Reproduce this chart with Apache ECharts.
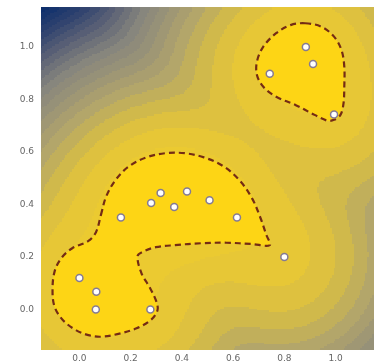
<!DOCTYPE html>
<html>
<head>
<meta charset="utf-8">
<script src="https://cdn.jsdelivr.net/npm/echarts@6/dist/echarts.min.js"></script>
<style>
  html, body { margin: 0; padding: 0; background: #fff; }
  #chart { width: 374px; height: 363px; }
</style>
</head>
<body>
<div id="chart"></div>
<script>
// training points (white markers)
const pointsX = [0.0, 0.066, 0.064, 0.277, 0.162, 0.28, 0.317, 0.37, 0.42, 0.508, 0.615, 0.8, 0.743, 0.884, 0.912, 0.994]
const pointsY = [0.12, 0.067, 0.0, 0.0, 0.35, 0.405, 0.443, 0.39, 0.449, 0.416, 0.35, 0.2, 0.898, 1.0, 0.935, 0.742]

// dashed decision boundary, lower-left region
const lowerX = [0.084, 0.104, 0.141, 0.192, 0.261, 0.336, 0.411, 0.486, 0.561, 0.624, 0.674, 0.705, 0.730, 0.743, 0.674, 0.574, 0.474, 0.373, 0.298, 0.248, 0.227, 0.242, 0.273, 0.298, 0.305, 0.279, 0.223, 0.148, 0.085, 0.035, -0.015, -0.065, -0.097, -0.105, -0.097, -0.071, -0.028, 0.035, 0.065]
const lowerY = [0.360, 0.429, 0.493, 0.544, 0.579, 0.595, 0.595, 0.579, 0.546, 0.493, 0.423, 0.353, 0.283, 0.245, 0.249, 0.254, 0.252, 0.245, 0.237, 0.220, 0.203, 0.138, 0.086, 0.036, -0.002, -0.040, -0.072, -0.094, -0.104, -0.098, -0.078, -0.040, 0.010, 0.074, 0.144, 0.195, 0.233, 0.261, 0.295]

// dashed decision boundary, upper-right region
const upperX = [0.881, 0.944, 0.994, 1.023, 1.034, 1.034, 1.031, 1.019, 0.994, 0.968, 0.918, 0.843, 0.768, 0.718, 0.693, 0.693, 0.718, 0.768, 0.824]
const upperY = [1.090, 1.077, 1.039, 0.988, 0.925, 0.848, 0.785, 0.741, 0.722, 0.719, 0.741, 0.779, 0.810, 0.848, 0.893, 0.944, 1.001, 1.052, 1.083]

// tick labels on both axes
const tickValues = [0.0, 0.2, 0.4, 0.6, 0.8, 1.0]

const AX_MIN = -0.15, AX_MAX = 1.15
const STEP = 0.0065      // mesh step for the background
const BW = 0.15          // kernel bandwidth
const THRESH = 0.65      // level of the dashed line (log density)
const BAND = 0.75        // contour band width

// background: log kernel density of the points on a mesh
const logDensity = (x, y) => {
  let s = 0
  for (let i = 0; i < pointsX.length; i++) {
    const dx = x - pointsX[i], dy = y - pointsY[i]
    s += Math.exp(-(dx * dx + dy * dy) / (2 * BW * BW))
  }
  return Math.log(s)
}
const heat = []
const n = Math.round((AX_MAX - AX_MIN) / STEP)
for (let i = 0; i < n; i++) {
  for (let j = 0; j < n; j++) {
    const x = AX_MIN + (i + 0.5) * STEP, y = AX_MIN + (j + 0.5) * STEP
    heat.push([x, y, logDensity(x, y)])
  }
}

// colour stops (level -> colour)
const stops = [
  [-15.5, [5, 42, 108]],
  [-12, [45, 65, 110]],
  [-9, [95, 100, 118]],
  [-6.5, [135, 134, 125]],
  [-4.5, [155, 148, 118]],
  [-2.5, [182, 168, 104]],
  [-1.5, [203, 182, 80]],
  [-0.6, [220, 192, 64]],
  [0.1, [229, 198, 56]],
  [0.65, [234, 201, 50]]
]
const colorAt = (v) => {
  if (v <= stops[0][0]) return 'rgb(' + stops[0][1].join(',') + ')'
  for (let k = 1; k < stops.length; k++) {
    if (v <= stops[k][0]) {
      const a = stops[k - 1], b = stops[k]
      const t = (v - a[0]) / (b[0] - a[0])
      const c = a[1].map((ca, m) => Math.round(ca + (b[1][m] - ca) * t))
      return 'rgb(' + c.join(',') + ')'
    }
  }
  return 'rgb(' + stops[stops.length - 1][1].join(',') + ')'
}
const pieces = [{ gte: THRESH, color: '#ebca31' }]
for (let k = 0; k < 24; k++) {
  const hi = THRESH - k * BAND, lo = hi - BAND
  pieces.push(k === 23 ? { lt: hi, color: colorAt(lo) } : { gte: lo, lt: hi, color: colorAt((lo + hi) / 2) })
}

const chart = echarts.init(document.getElementById('chart'))

const polygonSeries = (xs, ys) => ({
  type: 'custom',
  z: 3,
  silent: true,
  data: [[xs[0], ys[0]]],
  renderItem: (params, api) => {
    const pts = xs.map((x, i) => api.coord([x, ys[i]]))
    return {
      type: 'polygon',
      shape: { points: pts, smooth: 0.35 },
      style: {
        fill: '#fdd515',
        stroke: '#742c14',
        lineWidth: 2.2,
        lineDash: [6, 4]
      }
    }
  }
})

const axisCommon = {
  type: 'value',
  min: AX_MIN,
  max: AX_MAX,
  splitLine: { show: false },
  axisLine: { show: false },
  axisTick: { show: false },
}

const option = {
  animation: false,
  backgroundColor: '#fff',
  grid: { left: 41, top: 7.5, width: 346, height: 341.3 },
  xAxis: Object.assign({}, axisCommon, {
    axisLabel: {
      color: '#666', fontSize: 9, fontFamily: 'DejaVu Sans', margin: 5,
      customValues: tickValues, formatter: (v) => v.toFixed(1)
    }
  }),
  yAxis: Object.assign({}, axisCommon, {
    axisLabel: {
      color: '#666', fontSize: 9, fontFamily: 'DejaVu Sans', margin: 7,
      customValues: tickValues, formatter: (v) => v.toFixed(1)
    }
  }),
  visualMap: {
    type: 'piecewise',
    show: false,
    seriesIndex: 0,
    dimension: 2,
    pieces: pieces
  },
  series: [
    {
      // filled contour bands
      type: 'custom',
      data: heat,
      progressive: 0,
      silent: true,
      z: 1,
      encode: { x: 0, y: 1 },
      renderItem: (params, api) => {
        const p = api.coord([api.value(0) - STEP / 2, api.value(1) + STEP / 2])
        const s = api.size([STEP, STEP])
        return {
          type: 'rect',
          shape: { x: Math.floor(p[0]), y: Math.floor(p[1]), width: Math.ceil(s[0]) + 1, height: Math.ceil(s[1]) + 1 },
          style: { fill: api.visual('color') }
        }
      }
    },
    polygonSeries(lowerX, lowerY),
    polygonSeries(upperX, upperY),
    {
      type: 'scatter',
      z: 5,
      symbolSize: 7,
      data: pointsX.map((x, i) => [x, pointsY[i]]),
      itemStyle: { color: '#ffffff', borderColor: '#857b93', borderWidth: 1.5, opacity: 1 }
    }
  ]
}
chart.setOption(option)
</script>
</body>
</html>
